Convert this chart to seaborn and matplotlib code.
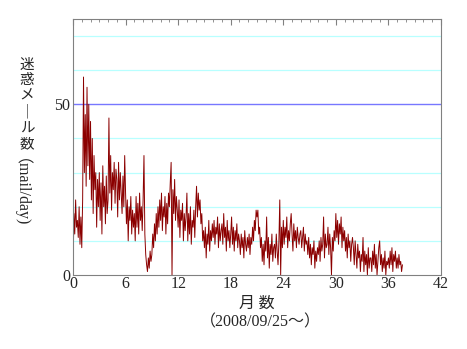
import numpy as np
import pandas as pd
import matplotlib
matplotlib.use('Agg')
import matplotlib.pyplot as plt
from matplotlib.ticker import MultipleLocator, FixedLocator
import seaborn as sns

# daily spam count, sampled roughly every 3 days (10 samples per month)
spam = [
    0, 18, 12, 22, 14, 16, 11, 20, 9, 17,        # month 0
    8, 22, 58, 30, 47, 26, 55, 32, 50, 28,       # 1
    45, 22, 40, 18, 35, 25, 30, 14, 28, 20,      # 2
    30, 16, 27, 12, 32, 20, 26, 15, 29, 18,      # 3
    22, 46, 24, 35, 19, 30, 25, 33, 21, 31,      # 4
    28, 17, 33, 22, 30, 24, 18, 29, 20, 35,      # 5
    24, 15, 22, 10, 20, 16, 23, 12, 19, 14,      # 6
    18, 10, 23, 14, 21, 12, 24, 16, 20, 13,      # 7
    22, 35, 12, 6, 3, 1, 5, 2, 7, 4,             # 8
    6, 12, 8, 15, 10, 18, 12, 20, 14, 22,        # 9
    16, 24, 13, 20, 17, 23, 12, 21, 15, 24,      # 10
    20, 27, 33, 0, 25, 18, 28, 16, 23, 19,       # 11
    14, 22, 11, 19, 16, 21, 10, 18, 13, 17,      # 12
    24, 10, 18, 12, 20, 9, 16, 14, 19, 11,       # 13
    20, 26, 17, 24, 19, 22, 15, 18, 10, 13,      # 14
    8, 14, 5, 12, 9, 16, 7, 13, 10, 15,          # 15
    11, 16, 9, 14, 12, 17, 8, 15, 10, 13,        # 16
    15, 9, 18, 11, 14, 7, 16, 10, 13, 8,         # 17
    12, 17, 9, 14, 7, 13, 10, 15, 8, 12,         # 18
    10, 6, 12, 8, 11, 5, 13, 9, 7, 11,           # 19
    8, 12, 6, 11, 9, 14, 10, 16, 13, 19,         # 20
    17, 19, 12, 14, 8, 11, 4, 9, 3, 10,          # 21
    7, 17, 5, 11, 2, 9, 6, 12, 4, 8,             # 22
    9, 5, 12, 7, 3, 10, 22, 0, 14, 8,            # 23
    16, 9, 14, 11, 17, 8, 13, 10, 15, 18,        # 24
    12, 7, 15, 10, 13, 8, 14, 11, 9, 12,         # 25
    13, 8, 11, 14, 7, 12, 9, 10, 6, 11,          # 26
    5, 9, 3, 8, 6, 10, 2, 7, 4, 8,               # 27
    6, 10, 4, 11, 7, 9, 17, 5, 12, 8,            # 28
    9, 14, 6, 12, 8, 0, 11, 7, 13, 10,           # 29
    18, 11, 16, 9, 15, 12, 17, 8, 14, 10,        # 30
    13, 7, 11, 5, 12, 8, 10, 4, 9, 11,           # 31
    8, 3, 10, 6, 2, 9, 5, 7, 1, 6,               # 32
    4, 11, 1, 7, 3, 6, 0, 8, 2, 5,               # 33
    5, 1, 7, 3, 9, 2, 6, 0, 4, 8,                # 34
    10, 3, 6, 1, 5, 2, 7, 0, 4, 3,               # 35
    5, 2, 7, 3, 8, 1, 6, 4, 7, 2,                # 36
    5, 2, 6, 3, 4, 1, 3,                         # 37
]
months = np.arange(len(spam)) / 10.0

x_ticks = [0, 6, 12, 18, 24, 30, 36, 42]
y_ticks = [0, 50]
cyan_grid = [10, 20, 30, 40, 60, 70]
ylabel_jp = ['迷', '惑', 'メ', '｜', 'ル', '数']

df = pd.DataFrame({'month': months, 'spam': spam})

sns.set_style('white')
plt.rcParams['font.family'] = ['Liberation Serif', 'Noto Sans CJK JP', 'DejaVu Sans']

fig = plt.figure(figsize=(4.67, 3.49), dpi=100)
ax = fig.add_axes([73 / 467, 1 - 275 / 349, 368 / 467, 256 / 349])

for g in cyan_grid:
    ax.axhline(g, color='#b8ffff', lw=0.9, zorder=0)
ax.axhline(50, color='#7777ff', lw=1.0, zorder=0)

sns.lineplot(data=df, x='month', y='spam', ax=ax, color='#8b0000', lw=0.7)

ax.set_xlim(0, 42)
ax.set_ylim(0, 75)
ax.xaxis.set_major_locator(FixedLocator(x_ticks))
ax.xaxis.set_minor_locator(MultipleLocator(1))
ax.yaxis.set_major_locator(FixedLocator(y_ticks))
ax.tick_params(axis='x', which='major', direction='in', top=True, length=4,
               color='#808080', labelsize=11.5, pad=1)
ax.tick_params(axis='x', which='minor', direction='in', top=True, length=2,
               color='#808080')
ax.tick_params(axis='y', length=0, labelsize=11.5, pad=2)
for s in ax.spines.values():
    s.set_color('#808080')
    s.set_linewidth(0.8)
ax.set_xlabel('')
ax.set_ylabel('')

# vertical japanese y label
ys = [65, 80, 95, 112, 129, 144]
for ch, yy in zip(ylabel_jp, ys):
    fig.text(27 / 467, 1 - yy / 349, ch, ha='center', va='center', fontsize=10.5,
             family=['Noto Sans CJK JP', 'DejaVu Sans'])
fig.text(13 / 467, 1 - 197 / 349, '（mail/day)', ha='center', va='center',
         rotation=-90, fontsize=11.5)

fig.text(257 / 467, 1 - 303 / 349, '月 数', ha='center', va='center', fontsize=11.5,
         family=['Noto Sans CJK JP', 'DejaVu Sans'])
fig.text(260 / 467, 1 - 322 / 349, '（2008/09/25〜）', ha='center', va='center',
         fontsize=11.5)

fig.savefig('out.png', dpi=100)
